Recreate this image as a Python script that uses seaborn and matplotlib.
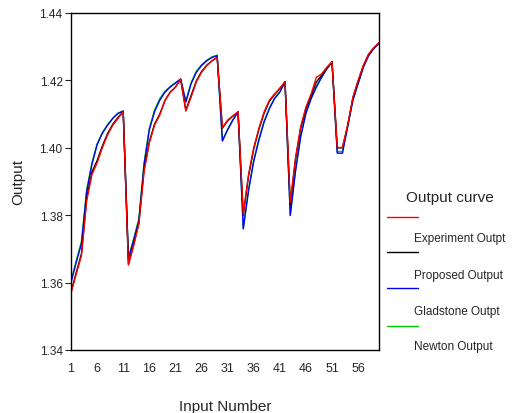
import numpy as np
import pandas as pd
import matplotlib
matplotlib.use("Agg")
import matplotlib.pyplot as plt
import seaborn as sns
from matplotlib.lines import Line2D

input_number = list(range(1, 61))

experiment = [1.3569, 1.3625, 1.3680, 1.3842, 1.3920, 1.3955, 1.4000, 1.4038, 1.4067, 1.4087,
              1.4107, 1.3652, 1.3710, 1.3774, 1.3930, 1.4014, 1.4067, 1.4097, 1.4141, 1.4165,
              1.4180, 1.4204, 1.4109, 1.4150, 1.4195, 1.4224, 1.4244, 1.4258, 1.4268, 1.4060,
              1.4082, 1.4095, 1.4107, 1.3803, 1.3920, 1.4000, 1.4058, 1.4107, 1.4141, 1.4160,
              1.4177, 1.4195, 1.3838, 1.3970, 1.4063, 1.4121, 1.4160, 1.4209, 1.4219, 1.4239,
              1.4255, 1.4001, 1.4001, 1.4067, 1.4150, 1.4200, 1.4244, 1.4278, 1.4297, 1.4312]

proposed = [1.3572, 1.3630, 1.3685, 1.3850, 1.3928, 1.3962, 1.4005, 1.4042, 1.4070, 1.4090,
            1.4108, 1.3655, 1.3712, 1.3778, 1.3935, 1.4018, 1.4070, 1.4100, 1.4140, 1.4165,
            1.4180, 1.4203, 1.4112, 1.4155, 1.4198, 1.4226, 1.4245, 1.4258, 1.4268, 1.4058,
            1.4080, 1.4094, 1.4106, 1.3800, 1.3915, 1.3996, 1.4055, 1.4103, 1.4138, 1.4158,
            1.4176, 1.4196, 1.3832, 1.3965, 1.4058, 1.4116, 1.4155, 1.4195, 1.4215, 1.4236,
            1.4255, 1.4000, 1.4000, 1.4066, 1.4148, 1.4198, 1.4243, 1.4277, 1.4297, 1.4311]

gladstone = [1.3600, 1.3660, 1.3715, 1.3870, 1.3950, 1.4009, 1.4043, 1.4067, 1.4087, 1.4102,
             1.4109, 1.3671, 1.3725, 1.3784, 1.3950, 1.4053, 1.4107, 1.4141, 1.4165, 1.4180,
             1.4192, 1.4204, 1.4136, 1.4190, 1.4224, 1.4244, 1.4258, 1.4268, 1.4273, 1.4020,
             1.4053, 1.4082, 1.4107, 1.3759, 1.3872, 1.3960, 1.4023, 1.4077, 1.4116, 1.4146,
             1.4165, 1.4195, 1.3799, 1.3930, 1.4033, 1.4102, 1.4146, 1.4180, 1.4209, 1.4234,
             1.4255, 1.3984, 1.3984, 1.4063, 1.4141, 1.4190, 1.4239, 1.4273, 1.4294, 1.4310]

newton = [1.3605, 1.3665, 1.3722, 1.3875, 1.3955, 1.4012, 1.4045, 1.4069, 1.4088, 1.4103,
          1.4109, 1.3675, 1.3730, 1.3790, 1.3955, 1.4058, 1.4112, 1.4146, 1.4168, 1.4182,
          1.4193, 1.4204, 1.4138, 1.4193, 1.4227, 1.4246, 1.4260, 1.4270, 1.4275, 1.4022,
          1.4055, 1.4083, 1.4107, 1.3762, 1.3875, 1.3963, 1.4026, 1.4079, 1.4118, 1.4148,
          1.4167, 1.4195, 1.3802, 1.3933, 1.4035, 1.4104, 1.4148, 1.4182, 1.4210, 1.4235,
          1.4255, 1.3989, 1.3989, 1.4065, 1.4143, 1.4192, 1.4240, 1.4274, 1.4295, 1.4310]

series_names = ["Experiment Outpt", "Proposed Output", "Gladstone Outpt", "Newton Output"]
series_colors = ["#ff0000", "#000000", "#0000ff", "#00cc00"]
x_ticks = [1, 6, 11, 16, 21, 26, 31, 36, 41, 46, 51, 56]
y_ticks = [1.34, 1.36, 1.38, 1.40, 1.42, 1.44]

sns.set_style("white")
plt.rcParams['font.family'] = ['Liberation Sans', 'DejaVu Sans']

frames = []
for name, vals in zip(series_names, [experiment, proposed, gladstone, newton]):
    frames.append(pd.DataFrame({"Input Number": input_number, "Output": vals, "Series": name}))
df = pd.concat(frames, ignore_index=True)

fig = plt.figure(figsize=(5.13, 4.14), dpi=100)
ax = fig.add_axes([71/513, 1 - 351/414, (379-71)/513, (351-14)/414])

palette = dict(zip(series_names, series_colors))
draw_order = ["Newton Output", "Gladstone Outpt", "Proposed Output", "Experiment Outpt"]
sns.lineplot(data=df, x="Input Number", y="Output", hue="Series", hue_order=draw_order,
             palette=palette, linewidth=1.0, legend=False, ax=ax)

ax.set_xlim(1, 60)
ax.set_ylim(1.34, 1.44)
ax.set_xticks(x_ticks)
ax.set_xticklabels([str(t) for t in x_ticks], fontsize=9)
ax.set_yticks(y_ticks)
ax.set_yticklabels([f"{t:.2f}" for t in y_ticks], fontsize=8.5)
ax.tick_params(axis="y", direction="out", length=4, width=0.8, pad=2, left=True)
ax.tick_params(axis="x", length=0, pad=9)
for s in ax.spines.values():
    s.set_color("black")
    s.set_linewidth(1.0)

ax.set_xlabel("Input Number", fontsize=11, labelpad=18)
ax.set_ylabel("Output", fontsize=11, labelpad=10)

# legend (offset style)
fig.text(450/513, 1 - 198/414, "Output curve", fontsize=11, ha="center", va="center")
line_y = [218, 253, 289, 327]
label_y = [239, 276, 312, 347]
for name, col, ly, ty in zip(series_names, series_colors, line_y, label_y):
    fig.add_artist(Line2D([387/513, 418/513], [1 - ly/414, 1 - ly/414], color=col,
                          linewidth=1.0, transform=fig.transFigure))
    fig.text(414/513, 1 - ty/414, name, fontsize=8.5, ha="left", va="center")

fig.savefig("out.png", dpi=100)
